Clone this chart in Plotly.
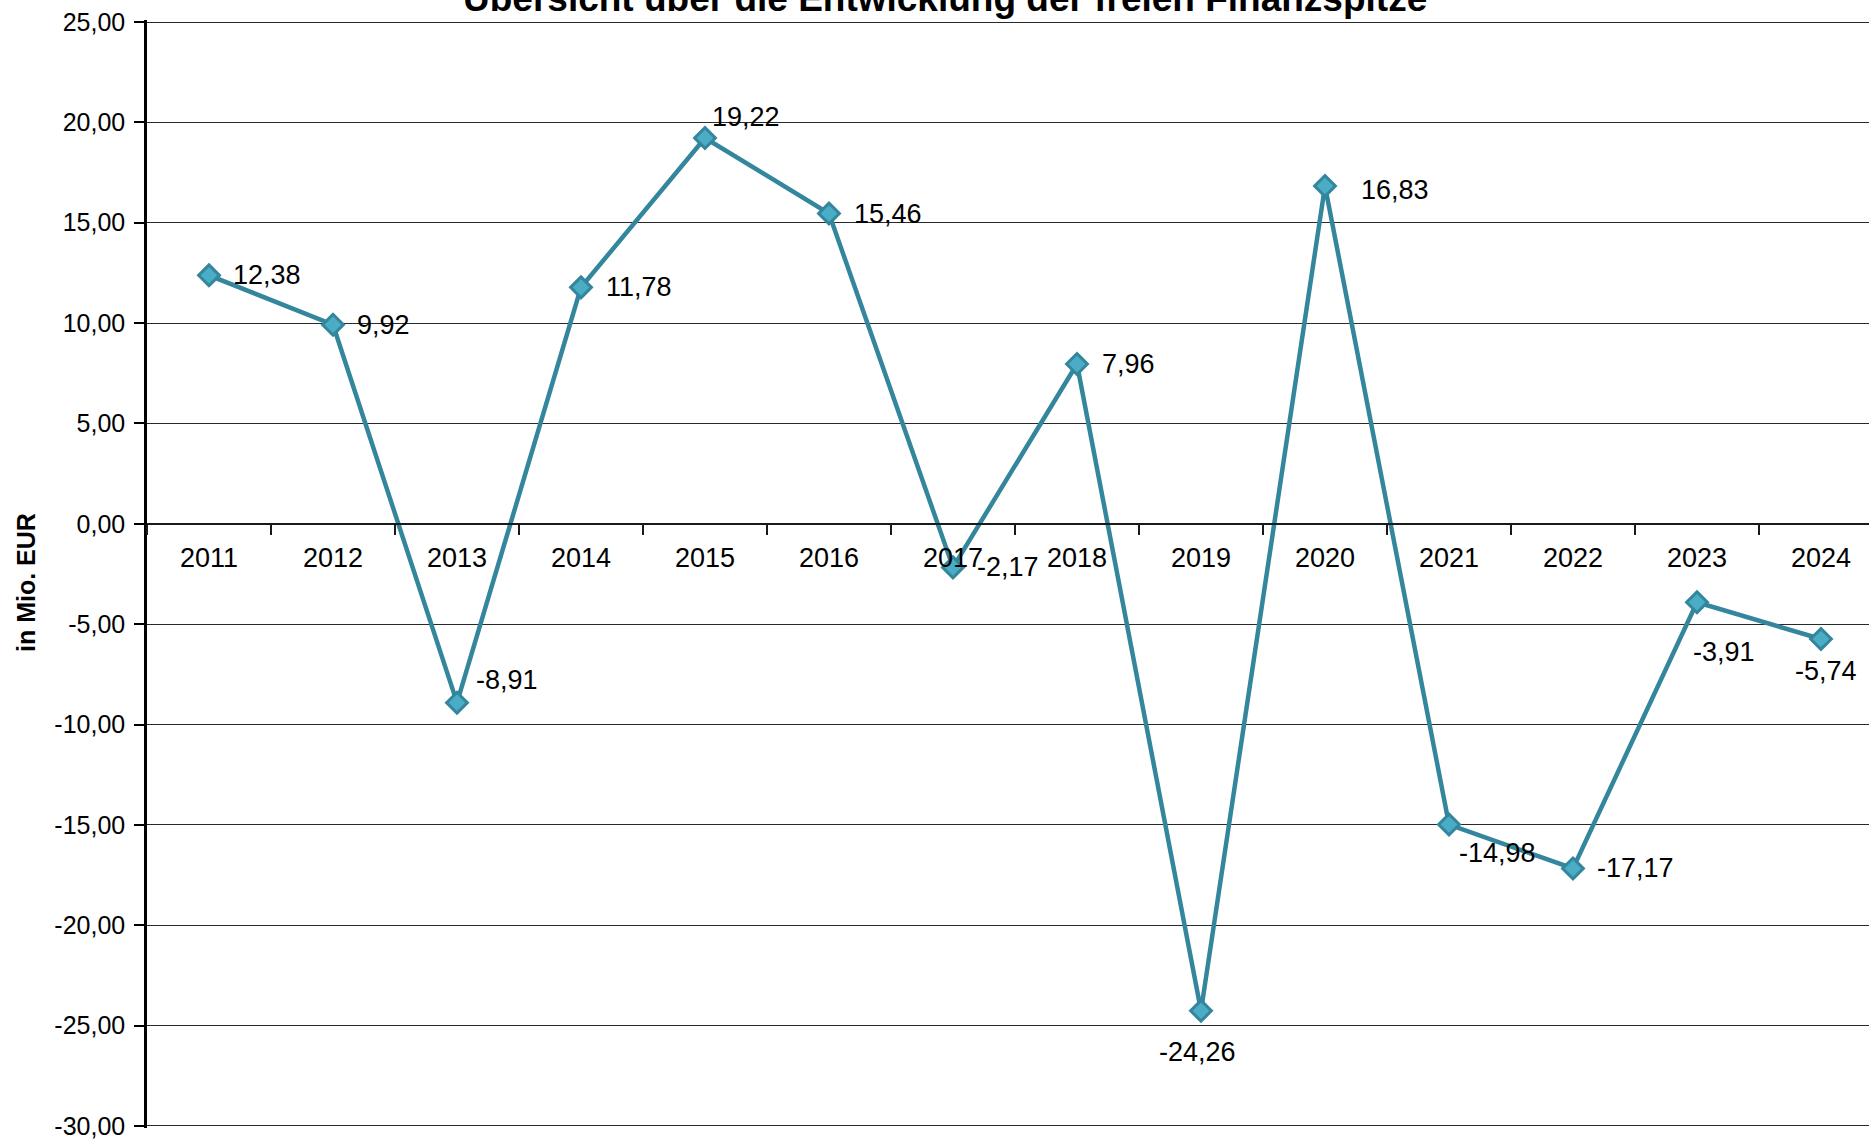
import plotly.graph_objects as go

# Freie Finanzspitze je Haushaltsjahr (Mio. EUR)
years = ["2011", "2012", "2013", "2014", "2015", "2016", "2017",
         "2018", "2019", "2020", "2021", "2022", "2023", "2024"]
values = [12.38, 9.92, -8.91, 11.78, 19.22, 15.46, -2.17,
          7.96, -24.26, 16.83, -14.98, -17.17, -3.91, -5.74]

y_ticks = [25, 20, 15, 10, 5, 0, -5, -10, -15, -20, -25, -30]

title_text = "Übersicht über die Entwicklung der freien Finanzspitze"
y_title = "in Mio. EUR"

# label placement per point: (anchor, x shift px, y shift px)
label_pos = [
    ("left", 22, 0), ("left", 22, 0), ("left", 17, 23), ("left", 23, 0),
    ("left", 5, 21), ("left", 23, 0), ("left", 22, 0), ("left", 23, 0),
    ("center", -4, -41), ("left", 34, -4), ("left", 8, -28), ("left", 22, 0),
    ("left", -6, -50), ("left", -28, -32),
]

LINE = "#33869C"
FILL = "#4BACC6"
FONT = "Liberation Sans, Arial, sans-serif"

W, H = 1869, 1140
M_L, M_R, M_T, M_B = 147, 0, 20, 12
Y_MIN, Y_MAX = -30, 25
PAD = 0.1  # keeps the outermost gridlines inside the drawn range


def fmt(v):
    return f"{v:.2f}".replace(".", ",")


fig = go.Figure()
fig.add_trace(go.Scatter(
    x=years, y=values, mode="lines+markers",
    line=dict(color=LINE, width=4.5),
    marker=dict(symbol="diamond", size=16, color=FILL,
                line=dict(color=LINE, width=3)),
    showlegend=False, cliponaxis=False,
))

annotations = []
for i, (v, (anc, dx, dy)) in enumerate(zip(values, label_pos)):
    annotations.append(dict(
        x=i, y=v, xref="x", yref="y", text=fmt(v), showarrow=False,
        xanchor=anc, yanchor="middle", xshift=dx, yshift=dy,
        font=dict(family=FONT, size=27, color="black"),
    ))

plot_w = W - M_L - M_R
unit_px = 124.0
x_max = -0.5 + plot_w / unit_px

# chart title, partly above the page edge
annotations.append(dict(
    x=(945 - M_L) / plot_w, y=1, xref="paper", yref="paper",
    text=f"<b>{title_text}</b>", showarrow=False,
    xanchor="center", yanchor="middle", yshift=22,
    font=dict(family=FONT, size=37, color="black"),
))

# vertical axis title
annotations.append(dict(
    x=(26 - M_L) / plot_w, y=0.5, xref="paper", yref="paper",
    text=f"<b>{y_title}</b>", showarrow=False, textangle=-90,
    xanchor="center", yanchor="middle", yshift=-8,
    font=dict(family=FONT, size=25, color="black"),
))

y_lo, y_hi = Y_MIN - PAD, Y_MAX + PAD

fig.update_layout(
    width=W, height=H,
    margin=dict(l=M_L, r=M_R, t=M_T, b=M_B, pad=0),
    paper_bgcolor="white", plot_bgcolor="white",
    font=dict(family=FONT, color="black"),
    annotations=annotations,
    xaxis=dict(
        type="category", range=[-0.5, x_max],
        anchor="free", position=(0 - y_lo) / (y_hi - y_lo),
        showline=True, linecolor="#1a1a1a", linewidth=1.5,
        ticks="outside", tickson="boundaries", ticklen=10,
        tickcolor="#1a1a1a", tickwidth=1.5,
        showgrid=False, zeroline=False,
        tickfont=dict(family=FONT, size=27, color="black"),
        ticklabelstandoff=10,
    ),
    yaxis=dict(
        range=[y_lo, y_hi], tickvals=y_ticks,
        ticktext=[fmt(t) for t in y_ticks],
        showline=True, linecolor="black", linewidth=2.5,
        ticks="outside", ticklen=10, tickcolor="black", tickwidth=1.5,
        showgrid=True, gridcolor="#2a2a2a", gridwidth=1.3,
        zeroline=False, ticklabeloverflow="allow",
        tickfont=dict(family=FONT, size=25, color="black"),
        ticklabelstandoff=4,
    ),
)

fig.write_html("out.html")
